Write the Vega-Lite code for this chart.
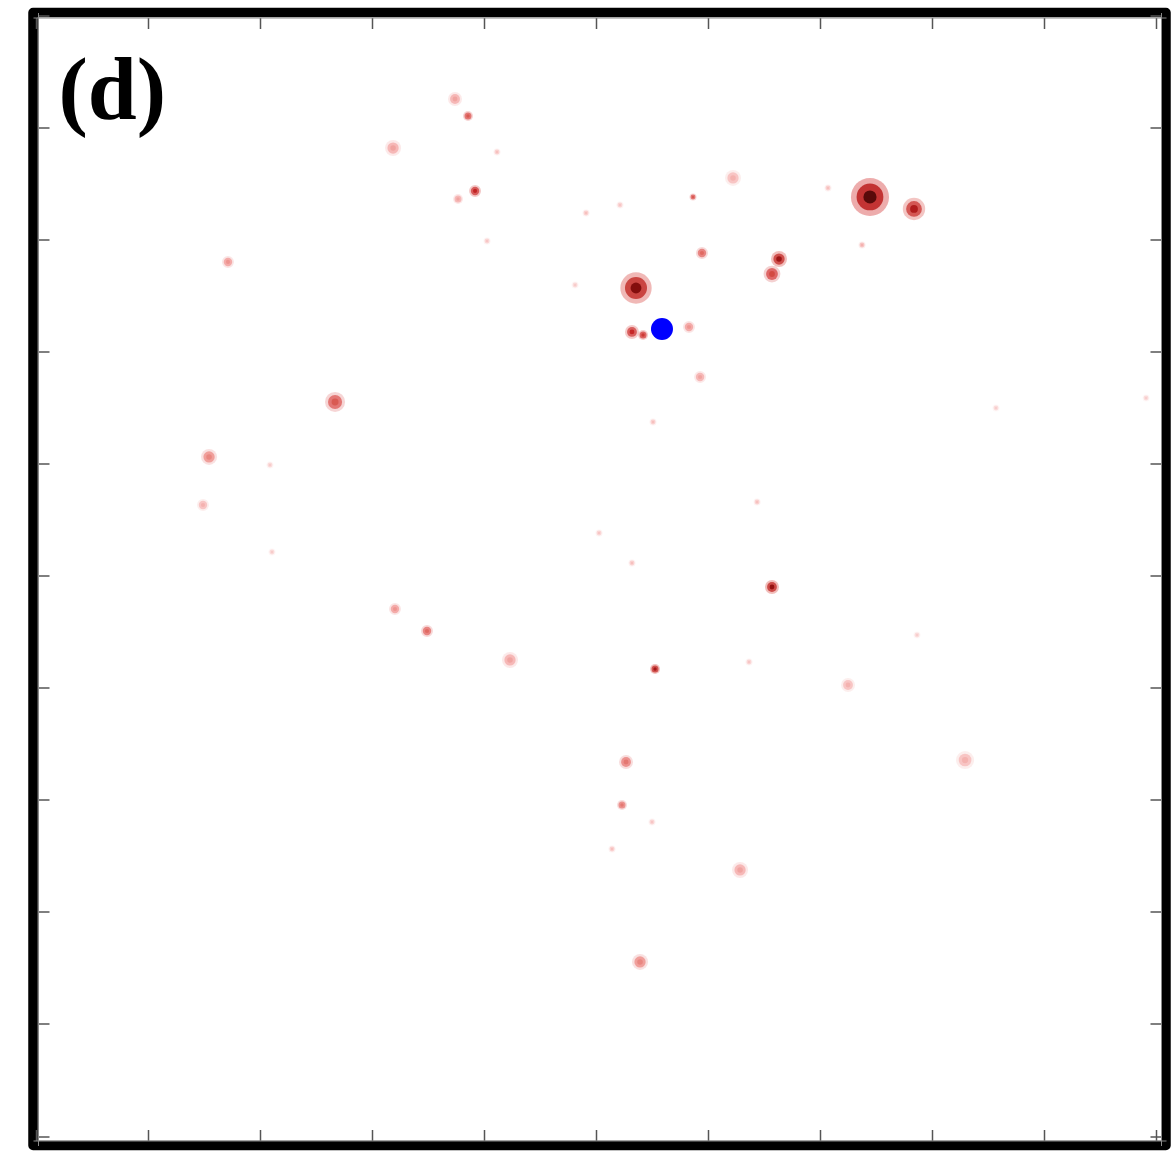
{
  "$schema": "https://vega.github.io/schema/vega-lite/v6.json",
  "width": 1133,
  "height": 1133,
  "autosize": {"type": "none"},
  "padding": {"left": 33, "top": 12.5, "right": 5, "bottom": 5},
  "background": "white",
  "config": {
    "view": {"stroke": "black", "strokeWidth": 9.5, "strokeJoin": "round", "fill": "white"},
    "axis": {
      "labels": false, "title": null, "grid": false,
      "domain": true, "domainColor": "#8a8a8a", "domainWidth": 1, "offset": -5,
      "ticks": true, "tickColor": "#555555", "tickWidth": 1.5, "tickSize": -11
    }
  },
  "datasets": {
    "blobs": [
      {"x": 7.446, "y": 8.384, "w": 0.34, "amp": 1.0},
      {"x": 7.839, "y": 8.277, "w": 0.2, "amp": 0.7},
      {"x": 5.357, "y": 7.571, "w": 0.28, "amp": 0.88},
      {"x": 5.321, "y": 7.179, "w": 0.125, "amp": 0.6},
      {"x": 5.420, "y": 7.152, "w": 0.089, "amp": 0.55},
      {"x": 6.634, "y": 7.830, "w": 0.143, "amp": 0.78},
      {"x": 6.571, "y": 7.696, "w": 0.15, "amp": 0.5},
      {"x": 6.571, "y": 4.902, "w": 0.125, "amp": 0.82},
      {"x": 5.527, "y": 4.170, "w": 0.089, "amp": 0.75},
      {"x": 2.670, "y": 6.554, "w": 0.179, "amp": 0.45},
      {"x": 1.545, "y": 6.063, "w": 0.143, "amp": 0.3},
      {"x": 5.268, "y": 3.339, "w": 0.125, "amp": 0.35},
      {"x": 3.857, "y": 9.107, "w": 0.089, "amp": 0.45},
      {"x": 3.920, "y": 8.438, "w": 0.107, "amp": 0.62},
      {"x": 5.946, "y": 7.884, "w": 0.107, "amp": 0.4},
      {"x": 3.491, "y": 4.509, "w": 0.107, "amp": 0.4},
      {"x": 3.205, "y": 4.705, "w": 0.107, "amp": 0.25},
      {"x": 5.393, "y": 1.554, "w": 0.143, "amp": 0.3},
      {"x": 6.286, "y": 2.375, "w": 0.143, "amp": 0.2},
      {"x": 4.232, "y": 4.250, "w": 0.143, "amp": 0.2},
      {"x": 8.295, "y": 3.357, "w": 0.161, "amp": 0.15},
      {"x": 7.250, "y": 4.027, "w": 0.125, "amp": 0.15},
      {"x": 3.741, "y": 9.259, "w": 0.125, "amp": 0.2},
      {"x": 3.188, "y": 8.821, "w": 0.143, "amp": 0.2},
      {"x": 6.223, "y": 8.554, "w": 0.143, "amp": 0.15},
      {"x": 5.866, "y": 8.384, "w": 0.0625, "amp": 0.45},
      {"x": 5.830, "y": 7.223, "w": 0.107, "amp": 0.25},
      {"x": 5.929, "y": 6.777, "w": 0.107, "amp": 0.2},
      {"x": 1.714, "y": 7.804, "w": 0.107, "amp": 0.25},
      {"x": 5.232, "y": 2.955, "w": 0.089, "amp": 0.35},
      {"x": 1.491, "y": 5.634, "w": 0.107, "amp": 0.15},
      {"x": 3.768, "y": 8.366, "w": 0.089, "amp": 0.2},
      {"x": 6.438, "y": 5.661, "w": 0.0625, "amp": 0.1},
      {"x": 5.027, "y": 5.384, "w": 0.0625, "amp": 0.08},
      {"x": 5.321, "y": 5.116, "w": 0.0625, "amp": 0.1},
      {"x": 6.366, "y": 4.232, "w": 0.0625, "amp": 0.08},
      {"x": 7.071, "y": 8.464, "w": 0.0625, "amp": 0.1},
      {"x": 8.571, "y": 6.500, "w": 0.0625, "amp": 0.05},
      {"x": 9.911, "y": 6.589, "w": 0.0625, "amp": 0.05},
      {"x": 5.509, "y": 6.375, "w": 0.0625, "amp": 0.1},
      {"x": 4.911, "y": 8.241, "w": 0.0625, "amp": 0.1},
      {"x": 5.214, "y": 8.313, "w": 0.0625, "amp": 0.08},
      {"x": 4.027, "y": 7.991, "w": 0.0625, "amp": 0.08},
      {"x": 4.813, "y": 7.598, "w": 0.0625, "amp": 0.06},
      {"x": 5.500, "y": 2.804, "w": 0.0625, "amp": 0.08},
      {"x": 5.143, "y": 2.563, "w": 0.0625, "amp": 0.1},
      {"x": 2.089, "y": 5.991, "w": 0.0625, "amp": 0.06},
      {"x": 2.107, "y": 5.214, "w": 0.0625, "amp": 0.06},
      {"x": 7.866, "y": 4.473, "w": 0.0625, "amp": 0.05},
      {"x": 7.375, "y": 7.955, "w": 0.0625, "amp": 0.15},
      {"x": 4.116, "y": 8.786, "w": 0.0625, "amp": 0.1}
    ],
    "source": [{"x": 5.589, "y": 7.205}],
    "panel": [{"label": "(d)", "x": 0.2, "y": 9.08}]
  },
  "resolve": {
    "scale": {"size": "independent", "color": "independent"},
    "axis": {"x": "independent", "y": "independent"}
  },
  "layer": [
    {
      "data": {"name": "blobs"},
      "mark": {"type": "circle", "opacity": 0.35},
      "encoding": {
        "x": {"field": "x", "type": "quantitative", "scale": {"domain": [-0.0268, 10.089], "nice": false, "zero": false}, "axis": {"orient": "bottom", "values": [0, 1, 2, 3, 4, 5, 6, 7, 8, 9, 10]}},
        "y": {"field": "y", "type": "quantitative", "scale": {"domain": [-0.0848, 10.031], "nice": false, "zero": false}, "axis": {"orient": "left", "values": [0, 1, 2, 3, 4, 5, 6, 7, 8, 9, 10]}},
        "size": {"field": "w", "type": "quantitative", "scale": {"type": "pow", "exponent": 2, "domain": [0, 1], "range": [0, 12544]}, "legend": null},
        "color": {"field": "amp", "type": "quantitative", "scale": {"domain": [0, 0.5, 1], "range": ["#fdf0f0", "#e07a7a", "#cc1010"]}, "legend": null}
      }
    },
    {
      "data": {"name": "blobs"},
      "mark": {"type": "circle", "opacity": 0.7},
      "encoding": {
        "x": {"field": "x", "type": "quantitative", "axis": {"orient": "top", "values": [0, 1, 2, 3, 4, 5, 6, 7, 8, 9, 10]}},
        "y": {"field": "y", "type": "quantitative", "axis": {"orient": "right", "values": [0, 1, 2, 3, 4, 5, 6, 7, 8, 9, 10]}},
        "size": {"field": "w", "type": "quantitative", "scale": {"type": "pow", "exponent": 2, "domain": [0, 1], "range": [0, 6200]}, "legend": null},
        "color": {"field": "amp", "type": "quantitative", "scale": {"domain": [0, 0.5, 1], "range": ["#fbe4e4", "#d43a3a", "#b00000"]}, "legend": null}
      }
    },
    {
      "data": {"name": "blobs"},
      "mark": {"type": "circle", "opacity": 0.8},
      "encoding": {
        "x": {"field": "x", "type": "quantitative", "axis": null},
        "y": {"field": "y", "type": "quantitative", "axis": null},
        "size": {"field": "w", "type": "quantitative", "scale": {"type": "pow", "exponent": 2, "domain": [0, 1], "range": [0, 1500]}, "legend": null},
        "color": {"field": "amp", "type": "quantitative", "scale": {"domain": [0, 0.6, 0.85, 1], "range": ["#f8d8d8", "#c01818", "#800000", "#000000"]}, "legend": null}
      }
    },
    {
      "data": {"name": "source"},
      "mark": {"type": "circle", "color": "#0000ff", "opacity": 1, "size": 484},
      "encoding": {
        "x": {"field": "x", "type": "quantitative", "axis": null},
        "y": {"field": "y", "type": "quantitative", "axis": null}
      }
    },
    {
      "data": {"name": "panel"},
      "mark": {"type": "text", "font": "Liberation Serif", "fontWeight": "bold", "fontSize": 88, "align": "left", "baseline": "alphabetic", "color": "black"},
      "encoding": {
        "x": {"field": "x", "type": "quantitative", "axis": null},
        "y": {"field": "y", "type": "quantitative", "axis": null},
        "text": {"field": "label"}
      }
    }
  ]
}
